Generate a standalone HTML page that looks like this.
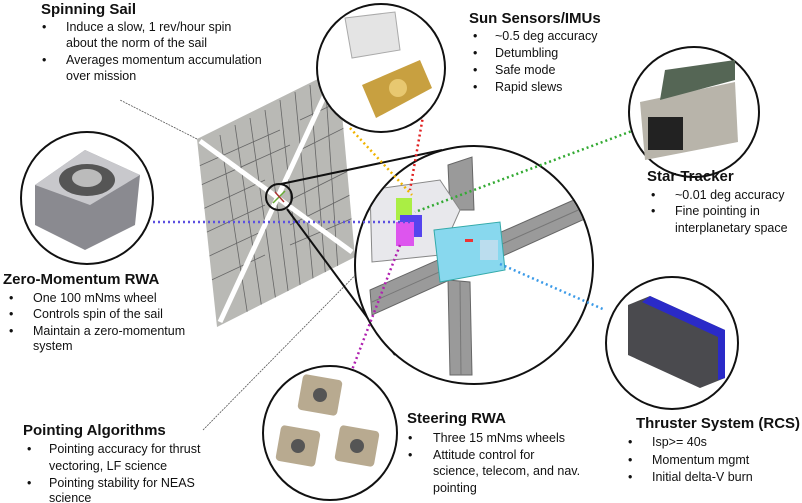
<!DOCTYPE html>
<html><head><meta charset="utf-8"><style>
body{margin:0;background:#fff;}
svg{display:block;font-family:"Liberation Sans",Arial,sans-serif;}
.t{font-weight:bold;font-size:15px;fill:#111;}
.b{font-size:12.5px;fill:#111;}
</style></head><body>
<svg width="802" height="503" viewBox="0 0 802 503">
<defs>
<clipPath id="sailclip"><polygon points="197,139 338,69 355,257 217,327"/></clipPath>
<clipPath id="bigclip"><circle cx="474" cy="265" r="118"/></clipPath>
</defs>
<line x1="197" y1="139" x2="120" y2="100" stroke="#555" stroke-width="0.8" stroke-dasharray="2,1"/>
<line x1="203" y1="430" x2="380" y2="250" stroke="#555" stroke-width="0.8" stroke-dasharray="2,1"/>
<g>
<polygon points="197,139 338,69 355,257 217,327" fill="#b9b9b5"/>
<g clip-path="url(#sailclip)" stroke="#666" stroke-width="0.8">
<line x1="220" y1="135" x2="250" y2="330"/><line x1="235" y1="125" x2="265" y2="330"/><line x1="250" y1="118" x2="280" y2="330"/><line x1="265" y1="110" x2="293" y2="330"/><line x1="280" y1="100" x2="305" y2="330"/><line x1="295" y1="92" x2="318" y2="330"/><line x1="310" y1="85" x2="330" y2="330"/><line x1="325" y1="78" x2="342" y2="330"/>
<line x1="190" y1="170" x2="280" y2="130"/><line x1="190" y1="190" x2="290" y2="145"/><line x1="190" y1="215" x2="265" y2="180"/><line x1="190" y1="240" x2="265" y2="205"/><line x1="190" y1="265" x2="265" y2="230"/><line x1="190" y1="290" x2="265" y2="255"/><line x1="290" y1="200" x2="360" y2="165"/><line x1="290" y1="225" x2="360" y2="190"/><line x1="290" y1="245" x2="360" y2="215"/><line x1="300" y1="120" x2="360" y2="92"/><line x1="300" y1="150" x2="360" y2="120"/>
</g>
<line x1="200" y1="141" x2="352" y2="252" stroke="#fff" stroke-width="5"/>
<line x1="335" y1="73" x2="220" y2="322" stroke="#fff" stroke-width="5"/>
<circle cx="279" cy="197" r="13" fill="none" stroke="#111" stroke-width="2"/>
<line x1="273" y1="203" x2="285" y2="191" stroke="#6a3" stroke-width="1.5"/><line x1="275" y1="192" x2="284" y2="202" stroke="#a33" stroke-width="1.5"/>
</g>
<line x1="281" y1="184" x2="442" y2="150" stroke="#111" stroke-width="2"/>
<line x1="287" y1="209" x2="395" y2="355" stroke="#111" stroke-width="2"/>
<g>
<circle cx="474" cy="265" r="119" fill="#fff" stroke="#111" stroke-width="2"/>
<g clip-path="url(#bigclip)">
<polygon points="370,290 585,195 587,218 372,315" fill="#9a9a9a" stroke="#666"/>
<polygon points="448,280 470,282 472,375 450,375" fill="#9a9a9a" stroke="#666"/>
<polygon points="448,165 472,157 474,210 450,210" fill="#9a9a9a" stroke="#666"/>
<line x1="372" y1="302" x2="585" y2="207" stroke="#777"/><line x1="460" y1="282" x2="461" y2="375" stroke="#777"/>
<polygon points="370,190 440,180 460,210 440,255 372,262" fill="#e8e8ec" stroke="#888"/>
<rect x="396" y="198" width="16" height="22" fill="#aaee44"/>
<rect x="400" y="215" width="22" height="22" fill="#5544ee"/>
<rect x="396" y="222" width="18" height="24" fill="#dd55ee"/>
<polygon points="434,230 500,222 505,270 440,282" fill="#88d8ee" stroke="#3aa"/>
<rect x="480" y="240" width="18" height="20" fill="#bde"/>
<rect x="465" y="239" width="8" height="3" fill="#e33"/>
</g>
</g>
<line x1="153" y1="222" x2="410" y2="222" stroke="#5b4fe0" stroke-width="2.5" stroke-dasharray="2,3"/>
<line x1="350" y1="128" x2="412" y2="195" stroke="#f0b400" stroke-width="2.5" stroke-dasharray="2,3"/>
<line x1="425" y1="105" x2="410" y2="190" stroke="#e02020" stroke-width="2.5" stroke-dasharray="2,3"/>
<line x1="640" y1="128" x2="415" y2="212" stroke="#33aa33" stroke-width="2.5" stroke-dasharray="2,3"/>
<line x1="500" y1="264" x2="605" y2="310" stroke="#3a9ae8" stroke-width="2.5" stroke-dasharray="2,3"/>
<line x1="400" y1="245" x2="352" y2="370" stroke="#b020b0" stroke-width="2.5" stroke-dasharray="2,3"/>
<g>
<circle cx="87" cy="198" r="66" fill="#fff" stroke="#111" stroke-width="2"/>
<polygon points="35,185 85,150 140,175 135,225 85,250 35,225" fill="#8a8a90"/>
<polygon points="35,185 85,150 140,175 90,205" fill="#c8c8cc"/>
<ellipse cx="87" cy="180" rx="28" ry="16" fill="#555"/><ellipse cx="87" cy="178" rx="15" ry="9" fill="#bbb"/>
</g>
<g>
<circle cx="381" cy="68" r="64" fill="#fff" stroke="#111" stroke-width="2"/>
<polygon points="345,18 395,12 400,50 352,58" fill="#e4e4e4" stroke="#aaa"/>
<polygon points="362,85 420,60 432,88 376,118" fill="#c8a040"/>
<circle cx="398" cy="88" r="9" fill="#e8c870"/>
</g>
<g>
<circle cx="694" cy="112" r="65" fill="#fff" stroke="#111" stroke-width="2"/>
<polygon points="640,102 735,82 738,142 645,160" fill="#b8b4aa"/>
<polygon points="660,100 735,80 735,60 665,70" fill="#556655"/>
<rect x="648" y="117" width="35" height="33" fill="#222"/>
</g>
<g>
<circle cx="672" cy="343" r="66" fill="#fff" stroke="#111" stroke-width="2"/>
<polygon points="628,305 650,296 725,330 725,378 700,388 628,355" fill="#4a4a4e"/>
<polygon points="650,296 725,330 725,378 718,380 718,337 642,302" fill="#2a2ac8"/>
</g>
<g>
<circle cx="330" cy="433" r="67" fill="#fff" stroke="#111" stroke-width="2"/>
<rect x="300" y="377" width="40" height="36" rx="4" fill="#b8aa90" transform="rotate(10 320 395)"/>
<rect x="278" y="428" width="40" height="36" rx="4" fill="#b8aa90" transform="rotate(10 298 446)"/>
<rect x="337" y="428" width="40" height="36" rx="4" fill="#b8aa90" transform="rotate(10 357 446)"/>
<circle cx="320" cy="395" r="7" fill="#555"/><circle cx="298" cy="446" r="7" fill="#555"/><circle cx="357" cy="446" r="7" fill="#555"/>
</g>
<g>
<text class="t" x="41" y="14">Spinning Sail</text>
<text class="b" x="42" y="31">•</text><text class="b" x="66" y="31">Induce a slow, 1 rev/hour spin</text>
<text class="b" x="66" y="47">about the norm of the sail</text>
<text class="b" x="42" y="64">•</text><text class="b" x="66" y="64">Averages momentum accumulation</text>
<text class="b" x="66" y="80">over mission</text>
</g>
<g>
<text class="t" x="469" y="23">Sun Sensors/IMUs</text>
<text class="b" x="473" y="40">•</text><text class="b" x="495" y="40">~0.5 deg accuracy</text>
<text class="b" x="473" y="57">•</text><text class="b" x="495" y="57">Detumbling</text>
<text class="b" x="473" y="74">•</text><text class="b" x="495" y="74">Safe mode</text>
<text class="b" x="473" y="91">•</text><text class="b" x="495" y="91">Rapid slews</text>
</g>
<g>
<text class="t" x="647" y="181">Star Tracker</text>
<text class="b" x="651" y="199">•</text><text class="b" x="675" y="199">~0.01 deg accuracy</text>
<text class="b" x="651" y="215">•</text><text class="b" x="675" y="215">Fine pointing in</text>
<text class="b" x="675" y="232">interplanetary space</text>
</g>
<g>
<text class="t" x="3" y="284">Zero-Momentum RWA</text>
<text class="b" x="9" y="302">•</text><text class="b" x="33" y="302">One 100 mNms  wheel</text>
<text class="b" x="9" y="318">•</text><text class="b" x="33" y="318">Controls spin of the sail</text>
<text class="b" x="9" y="335">•</text><text class="b" x="33" y="335">Maintain a zero-momentum</text>
<text class="b" x="33" y="350">system</text>
</g>
<g>
<text class="t" x="23" y="435">Pointing Algorithms</text>
<text class="b" x="27" y="453">•</text><text class="b" x="49" y="453">Pointing accuracy for thrust</text>
<text class="b" x="49" y="470">vectoring, LF science</text>
<text class="b" x="27" y="487">•</text><text class="b" x="49" y="487">Pointing stability for NEAS</text>
<text class="b" x="49" y="502">science</text>
</g>
<g>
<text class="t" x="407" y="423">Steering  RWA</text>
<text class="b" x="408" y="442">•</text><text class="b" x="433" y="442">Three 15 mNms  wheels</text>
<text class="b" x="408" y="459">•</text><text class="b" x="433" y="459">Attitude control for</text>
<text class="b" x="433" y="475">science, telecom, and nav.</text>
<text class="b" x="433" y="492">pointing</text>
</g>
<g>
<text class="t" x="636" y="428" textLength="164" lengthAdjust="spacingAndGlyphs">Thruster System (RCS)</text>
<text class="b" x="628" y="446">•</text><text class="b" x="652" y="446">Isp&gt;= 40s</text>
<text class="b" x="628" y="464">•</text><text class="b" x="652" y="464">Momentum mgmt</text>
<text class="b" x="628" y="481">•</text><text class="b" x="652" y="481">Initial delta-V burn</text>
</g>
</svg>
</body></html>
